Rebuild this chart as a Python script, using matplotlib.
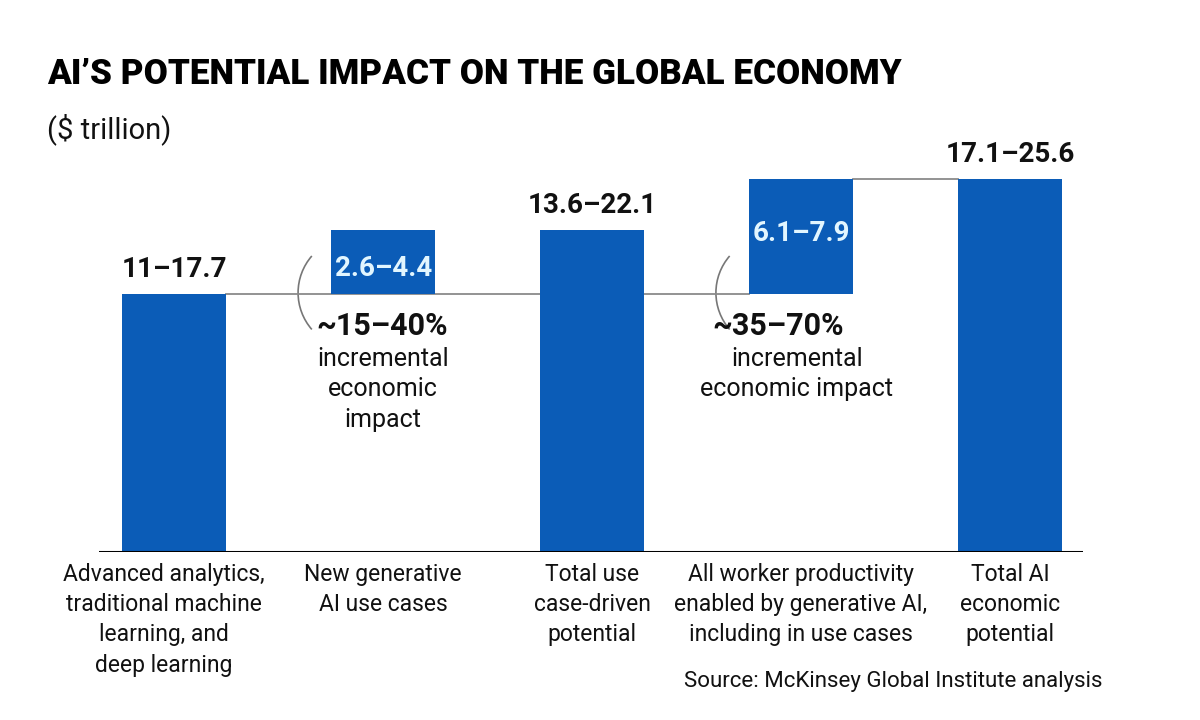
import numpy as np
import matplotlib
matplotlib.use("Agg")
import matplotlib.pyplot as plt
from matplotlib import font_manager
from matplotlib.patches import Arc

# waterfall data ($ trillion), bar heights follow the upper bound of each range
categories = [
    "Advanced analytics,\ntraditional machine\nlearning, and\ndeep learning",
    "New generative\nAI use cases",
    "Total use\ncase-driven\npotential",
    "All worker productivity\nenabled by generative AI,\nincluding in use cases",
    "Total AI\neconomic\npotential",
]
low = [11, 2.6, 13.6, 6.1, 17.1]
high = [17.7, 4.4, 22.1, 7.9, 25.6]
range_labels = ["11–17.7", "2.6–4.4", "13.6–22.1", "6.1–7.9", "17.1–25.6"]
is_step = [False, True, False, True, False]
pct_labels = {1: "~15–40%", 3: "~35–70%"}
pct_notes = {1: "incremental\neconomic\nimpact", 3: "incremental\neconomic impact"}

BLUE = "#0b5cb7"


def pick_font(names):
    have = {f.name for f in font_manager.fontManager.ttflist}
    for n in names:
        if n in have:
            return n
    return "DejaVu Sans"


FONT = pick_font(["Liberation Sans Narrow", "DejaVu Sans Condensed", "Roboto", "DejaVu Sans"])
plt.rcParams["font.family"] = [FONT, "DejaVu Sans"]

fig = plt.figure(figsize=(12, 7.2), dpi=100)
# axes: baseline at y=552px, ends of the axis line at 99 and 1083 px
ax = fig.add_axes([99 / 1200, 1 - 552 / 720, 984 / 1200, 437 / 720])
ax.set_xlim(-0.36, 4.35)
ax.set_ylim(0, 30)
ax.axis("off")

x = list(range(len(categories)))
w = 0.5
bottoms = [high[0] if is_step[i] else 0 for i in x]
tops = [bottoms[i] + high[i] for i in x]
ax.bar(x, high, bottom=bottoms, width=w, color=BLUE, zorder=3)

# connectors
gray = "#8a8a8a"
ax.plot([x[0] + w / 2, x[2] - w / 2], [tops[0], tops[0]], color=gray, lw=1.3, zorder=2)
ax.plot([x[2] + w / 2, x[3] - w / 2], [tops[0], tops[0]], color=gray, lw=1.3, zorder=2)
ax.plot([x[3] + w / 2, x[4] - w / 2], [tops[3], tops[3]], color=gray, lw=1.3, zorder=2)
ax.axhline(0, color="black", lw=2.2, zorder=4)

# pixel -> data scales for the bracket arcs
xs = 984 / 4.71
ys = 437 / 30
r_px = 56


def data_angle(deg):
    t = np.deg2rad(deg)
    return np.rad2deg(np.arctan2(np.sin(t) * r_px / ys, np.cos(t) * r_px / xs))


pct_dx = {1: -0.005, 3: -0.11}
note_dx = {1: 0.0, 3: -0.02}
inner_pos = {1: 0.6, 3: 0.47}

for i in x:
    if is_step[i]:
        yt = tops[i] - high[i] * inner_pos[i]
        ax.text(i, yt, range_labels[i], ha="center", va="center", color="#e2f6ff",
                fontsize=20, fontweight="bold", zorder=5)
        arc = Arc((i - 0.139, tops[0] + 0.1), width=2 * r_px / xs, height=2 * r_px / ys,
                  theta1=data_angle(139), theta2=data_angle(221) % 360,
                  color="#777777", lw=1.2)
        ax.add_patch(arc)
        ax.text(i + pct_dx[i], tops[0] - 2.2, pct_labels[i], ha="center", va="center",
                fontsize=22, fontweight="bold", color="#111111")
        ax.text(i + note_dx[i], tops[0] - 3.6, pct_notes[i],
                ha="center", va="top", fontsize=18, color="#111111", linespacing=1.35)
    else:
        ax.text(i, tops[i] + 0.75, range_labels[i], ha="center", va="bottom",
                fontsize=20, fontweight="bold", color="#111111")

for i in x:
    ax.text(i - (0.05 if i == 0 else 0), -0.75, categories[i], ha="center", va="top",
            fontsize=16.5, color="#111111", linespacing=1.4)

title = fig.text(47 / 1200, 1 - 58 / 720, "AI’S POTENTIAL IMPACT ON THE GLOBAL ECONOMY",
                 ha="left", va="top", fontsize=34, fontweight="black", color="black")
# fit title width to the reference (about 853 px)
fig.canvas.draw()
tw = title.get_window_extent().width
title.set_fontsize(34 * 853 / tw)

fig.text(47 / 1200, 1 - 113 / 720, "($ trillion)", ha="left", va="top",
         fontsize=21, color="#111111")
fig.text(1103 / 1200, 1 - 681 / 720, "Source: McKinsey Global Institute analysis",
         ha="right", va="center", fontsize=16, color="#111111")

fig.savefig("out.png", dpi=100, facecolor="white")
